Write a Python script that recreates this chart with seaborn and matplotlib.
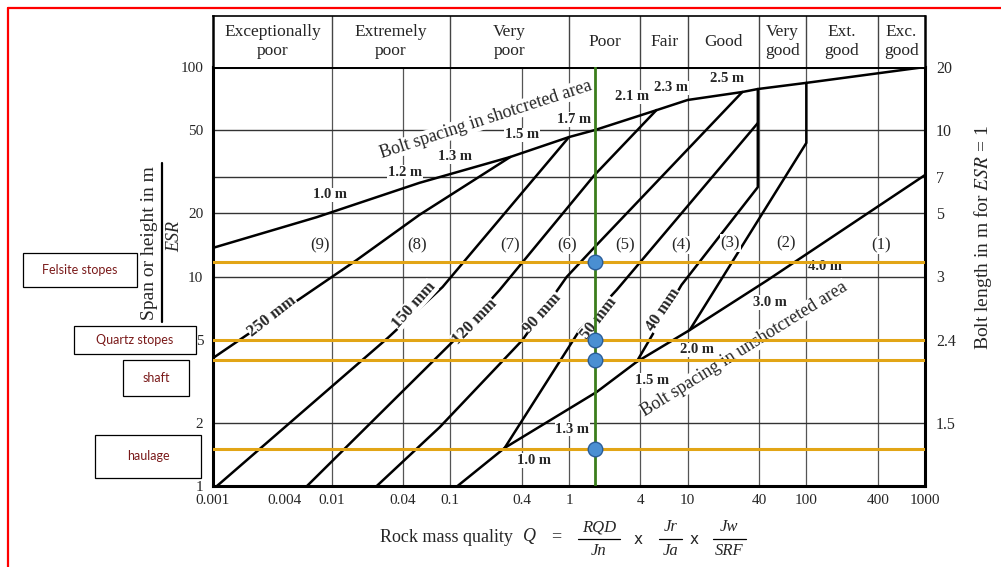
import pandas as pd
import matplotlib.pyplot as plt
import matplotlib.lines as mlines
import matplotlib.patches as mpatches
import seaborn as sns

# Q axis and span axis ticks
q_ticks = [0.001, 0.004, 0.01, 0.04, 0.1, 0.4, 1, 4, 10, 40, 100, 400, 1000]
q_ticklabels = ['0.001', '0.004', '0.01', '0.04', '0.1', '0.4', '1', '4', '10', '40', '100', '400', '1000']
span_ticks = [1, 2, 5, 10, 20, 50, 100]
bolt_span = [2, 5, 10, 20, 30, 50, 100]
bolt_length = ['1.5', '2.4', '3', '5', '7', '10', '20']

# rock mass classes (header)
class_names = ['Exceptionally\npoor', 'Extremely\npoor', 'Very\npoor', 'Poor', 'Fair', 'Good',
               'Very\ngood', 'Ext.\ngood', 'Exc.\ngood']
class_edges = [0.001, 0.01, 0.1, 1, 4, 10, 40, 100, 400, 1000]

# grid
grid_q = [0.01, 0.04, 0.1, 0.4, 1, 4, 10, 40, 100, 400]
grid_span = [2, 5, 10, 20, 30, 50]

# bolt spacing in shotcreted area
shot_q = [0.001, 0.0075, 0.055, 0.32, 1.0, 1.65, 5.5, 10, 29, 39, 100, 1000]
shot_s = [13.7, 19.2, 28, 37.2, 46.3, 50, 62.3, 69.6, 76, 78.5, 84, 100]
shot_labels = ['1.0 m', '1.2 m', '1.3 m', '1.5 m', '1.7 m', '2.1 m', '2.3 m', '2.5 m']
shot_label_q = [0.0097, 0.0414, 0.109, 0.40, 1.11, 3.37, 7.3, 21.6]
shot_label_s = [24.5, 31.5, 37.5, 47.4, 56, 72, 79.4, 88.6]

# bolt spacing in unshotcreted area
unshot_q = [0.115, 0.287, 1.71, 3.71, 10.4, 47, 1000]
unshot_s = [1.0, 1.52, 2.81, 3.91, 5.55, 9.6, 30.5]
unshot_labels = ['1.0 m', '1.3 m', '1.5 m', '2.0 m', '3.0 m', '4.0 m']
unshot_label_q = [0.51, 1.07, 5.06, 12.1, 48.9, 145]
unshot_label_s = [1.32, 1.87, 3.2, 4.46, 7.54, 11.2]

# shotcrete thickness boundaries
q_250 = [0.001, 0.0163, 0.055, 0.32]
s_250 = [4.08, 12.0, 19.7, 37.2]
q_150 = [0.00108, 0.0297, 0.086, 1.0]
s_150 = [1.0, 5.09, 8.91, 46.3]
q_120 = [0.0062, 0.115, 0.26, 1.64, 5.46]
s_120 = [1.0, 5.15, 8.62, 30.5, 62.3]
q_90 = [0.024, 0.0815, 0.406, 0.955, 1.64, 28.9]
s_90 = [1.0, 1.91, 4.98, 9.95, 13.8, 76]
q_50 = [0.287, 1.23, 2.52, 39]
s_50 = [1.52, 5.55, 8.62, 54]
q_40 = [3.71, 8.87, 39, 39]
s_40 = [3.91, 9.11, 26.7, 78.5]
q_32 = [10.4, 100, 100]
s_32 = [5.55, 43.4, 84]

mm_names = ['250 mm', '150 mm', '120 mm', '90 mm', '50 mm', '40 mm']
mm_label_q = [0.00314, 0.0492, 0.16, 0.60, 1.77, 6.25]
mm_label_s = [6.48, 7.31, 6.07, 6.7, 6.34, 6.92]
mm_rot = [38, 48, 46, 48, 52, 56]

# support categories
region_names = ['(9)', '(8)', '(7)', '(6)', '(5)', '(4)', '(3)', '(2)', '(1)']
region_q = [0.0079, 0.052, 0.316, 0.955, 2.94, 8.87, 22.9, 68, 428]
region_s = [14.1, 14.1, 14.1, 14.1, 14.1, 14.1, 14.4, 14.4, 14.1]

# excavations
stope_names = ['Felsite stopes', 'Quartz stopes', 'shaft', 'haulage']
stope_span = [11.7, 5.0, 4.0, 1.5]
q_design = 1.67

sns.set_theme(style='white')
plt.rcParams['font.family'] = ['Liberation Serif', 'DejaVu Serif']
plt.rcParams['mathtext.fontset'] = 'stix'

W, H = 1001, 567
fig = plt.figure(figsize=(W / 100, H / 100), dpi=100)


def fx(x):
    return x / W


def fy(y):
    return 1 - y / H


ax = fig.add_axes([fx(213), fy(486), (925 - 213) / W, (486 - 67) / H])
ax.set_xscale('log')
ax.set_yscale('log')
ax.set_xlim(0.001, 1000)
ax.set_ylim(1, 100)

# grid lines
for q in grid_q:
    ax.axvline(q, color='#555555', lw=0.9, zorder=1)
for s in grid_span:
    ax.axhline(s, color='#333333', lw=1.0, zorder=1)

# black boundary lines
parts = []
for name, qs, ss in [('shot', shot_q, shot_s), ('unshot', unshot_q, unshot_s),
                     ('250', q_250, s_250), ('150', q_150, s_150), ('120', q_120, s_120),
                     ('90', q_90, s_90), ('50', q_50, s_50), ('40', q_40, s_40), ('32', q_32, s_32)]:
    parts.append(pd.DataFrame({'q': qs, 's': ss, 'line': name}))
df = pd.concat(parts, ignore_index=True)
sns.lineplot(data=df, x='q', y='s', units='line', estimator=None, sort=False,
             color='black', lw=1.8, ax=ax, zorder=2, legend=False)

box = dict(facecolor='white', edgecolor='none', pad=0.6)
for t, q, s in zip(shot_labels, shot_label_q, shot_label_s):
    ax.text(q, s, t, fontsize=10.5, fontweight='bold', ha='center', va='center', bbox=box, zorder=3)
for t, q, s in zip(unshot_labels, unshot_label_q, unshot_label_s):
    ax.text(q, s, t, fontsize=10.5, fontweight='bold', ha='center', va='center', bbox=box, zorder=3)
for t, q, s, r in zip(mm_names, mm_label_q, mm_label_s, mm_rot):
    ax.text(q, s, t, fontsize=12, fontweight='bold', ha='center', va='center', rotation=r,
            rotation_mode='anchor', bbox=dict(facecolor='white', edgecolor='none', pad=0.3), zorder=3)
for t, q, s in zip(region_names, region_q, region_s):
    ax.text(q, s, t, fontsize=12, ha='center', va='center', bbox=box, zorder=3)

ax.text(0.200, 56, 'Bolt spacing in shotcreted area', fontsize=13, rotation=18,
        ha='center', va='center', rotation_mode='anchor',
        bbox=dict(facecolor='white', edgecolor='none', pad=0.2), zorder=3)
ax.text(30, 4.5, 'Bolt spacing in unshotcreted area', fontsize=13, rotation=32,
        ha='center', va='center', rotation_mode='anchor',
        bbox=dict(facecolor='white', edgecolor='none', pad=0.2), zorder=3)

# excavation spans and design Q
for s in stope_span:
    ax.axhline(s, color='#e2a516', lw=2.2, zorder=4)
ax.axvline(q_design, color='#3b7d1c', lw=2.0, zorder=5)
sns.scatterplot(x=[q_design] * len(stope_span), y=stope_span, s=110, color='#4a8fd2',
                edgecolor='#2a5d9a', linewidth=1.0, ax=ax, zorder=6, legend=False)

ax.set_xticks(q_ticks)
ax.set_xticklabels(q_ticklabels)
ax.set_yticks(span_ticks)
ax.set_yticklabels([str(v) for v in span_ticks])
ax.minorticks_off()
ax.tick_params(axis='both', length=0, labelsize=11)
ax.tick_params(axis='x', pad=6)
ax.tick_params(axis='y', pad=7)
ax.set_xlabel('')
ax.set_ylabel('')
for sp in ax.spines.values():
    sp.set_color('black')
    sp.set_linewidth(2.2)

ax2 = ax.twinx()
ax2.set_yscale('log')
ax2.set_ylim(1, 100)
ax2.set_yticks(bolt_span)
ax2.set_yticklabels(bolt_length)
ax2.minorticks_off()
ax2.tick_params(axis='y', length=0, labelsize=11.5, pad=8)
for sp in ax2.spines.values():
    sp.set_visible(False)

# header with rock mass classes
hax = fig.add_axes([fx(213), fy(67), (925 - 213) / W, (67 - 16) / H])
hax.set_xscale('log')
hax.set_xlim(0.001, 1000)
hax.set_ylim(0, 1)
hax.set_xticks([])
hax.set_yticks([])
hax.minorticks_off()
for e in class_edges[1:-1]:
    hax.axvline(e, color='#444444', lw=1.0)
for name, a, b in zip(class_names, class_edges[:-1], class_edges[1:]):
    hax.text((a * b) ** 0.5, 0.5, name, fontsize=12.5, ha='center', va='center', linespacing=1.3)
for k, sp in hax.spines.items():
    sp.set_color('black')
    sp.set_linewidth(1.8 if k != 'top' else 1.2)
hax.spines['bottom'].set_visible(False)

# axis titles
fig.text(fx(150), fy(243), 'Span or height in m', rotation=90, fontsize=14, ha='center', va='center')
fig.add_artist(mlines.Line2D([fx(162), fx(162)], [fy(163), fy(322)], color='black', lw=1.6))
fig.text(fx(175), fy(236), 'ESR', rotation=90, fontsize=13, style='italic', ha='center', va='center')
fig.text(fx(983), fy(238), 'Bolt length in m for $\\mathit{ESR}$ = 1', rotation=90, fontsize=14,
         ha='center', va='center')

fig.text(fx(380), fy(537), 'Rock mass quality', fontsize=13, ha='left', va='center')
fig.text(fx(530), fy(537), 'Q', fontsize=13, style='italic', ha='center', va='center')
fig.text(fx(556), fy(537), '=', fontsize=13, ha='center', va='center')
for num, den, x0, x1 in [('RQD', 'Jn', 578, 620), ('Jr', 'Ja', 659, 682), ('Jw', 'SRF', 713, 746)]:
    xc = (x0 + x1) / 2
    fig.text(fx(xc), fy(527), num, fontsize=12, style='italic', ha='center', va='center')
    fig.text(fx(xc), fy(551), den, fontsize=12, style='italic', ha='center', va='center')
    fig.add_artist(mlines.Line2D([fx(x0), fx(x1)], [fy(539), fy(539)], color='black', lw=0.9))
for xm in [638, 694]:
    fig.text(fx(xm), fy(539), 'x', fontsize=11, family='DejaVu Sans', ha='center', va='center')

# excavation name boxes
for name, (x0, y0, x1, y1) in zip(stope_names, [(23, 253, 137, 287), (74, 326, 196, 354),
                                              (123, 360, 189, 396), (95, 435, 201, 478)]):
    fig.add_artist(mpatches.Rectangle((fx(x0), fy(y1)), (x1 - x0) / W, (y1 - y0) / H,
                                      facecolor='white', edgecolor='black', lw=0.9))
    fig.text(fx((x0 + x1) / 2), fy((y0 + y1) / 2), name, fontsize=9, family='Lato',
             color='#7a1a1a', ha='center', va='center')

# red frame
fig.add_artist(mlines.Line2D([fx(8), 1], [fy(8), fy(8)], color='red', lw=1.6))
fig.add_artist(mlines.Line2D([fx(8), fx(8)], [fy(8), 0], color='red', lw=1.6))

fig.savefig('out.png', dpi=100)
